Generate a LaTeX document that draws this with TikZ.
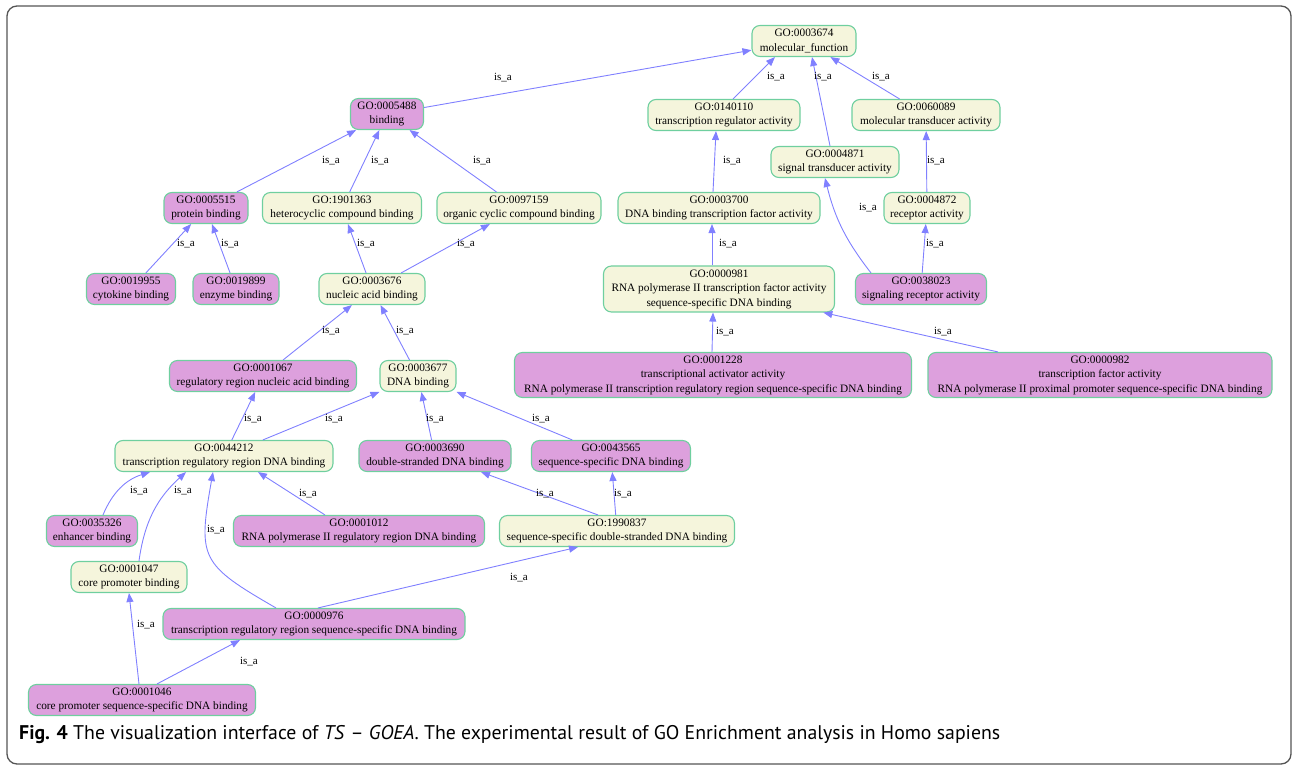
\documentclass[tikz,border=0pt]{standalone}
\usepackage{fontspec}
\usepackage{graphicx}
\setmainfont{Liberation Serif}
\newfontfamily\capfont{PT Sans}
\usetikzlibrary{arrows.meta}
\definecolor{goplum}{HTML}{DDA0DD}
\definecolor{gobeige}{HTML}{F5F5DC}
\definecolor{gobord}{HTML}{6FCF9F}
\definecolor{edgec}{HTML}{8080FF}
\definecolor{framec}{HTML}{555555}
\tikzset{
  gonode/.style={draw=gobord, line width=1.1pt, rounded corners=8pt, align=center,
    inner xsep=2pt, inner ysep=2pt, minimum height=31pt,
    font=\fontsize{11.3}{14.5}\selectfont},
  gop/.style={gonode, fill=goplum},
  goy/.style={gonode, fill=gobeige},
  isa/.style={draw=edgec, line width=0.9pt, -{Triangle[length=9pt,width=7pt]}},
  elab/.style={font=\fontsize{11}{13}\selectfont, inner sep=0pt, text=black}
}
\begin{document}
\begin{tikzpicture}[x=1pt,y=-1pt]
\useasboundingbox (0,0) rectangle (1294,767);
\draw[framec, line width=1.3pt, rounded corners=10pt] (7,6) rectangle (1291,764);

% nodes
\node[goy, minimum width=104pt] (mf) at (804,41) {GO:0003674\\molecular\_function};
\node[gop, minimum width=73pt] (bind) at (387,114) {GO:0005488\\binding};
\node[goy, minimum width=152pt] (trr) at (724,115) {GO:0140110\\transcription regulator activity};
\node[goy, minimum width=148pt] (mtd) at (926,115) {GO:0060089\\molecular transducer activity};
\node[goy, minimum width=128pt] (std) at (835,162) {GO:0004871\\signal transducer activity};
\node[gop, minimum width=84pt] (prot) at (206,208) {GO:0005515\\protein binding};
\node[goy, minimum width=159pt] (hetero) at (342,208) {GO:1901363\\heterocyclic compound binding};
\node[goy, minimum width=164pt] (orgcyc) at (519,208) {GO:0097159\\organic cyclic compound binding};
\node[goy, minimum width=202pt] (dbtf) at (719,208) {GO:0003700\\DNA binding transcription factor activity};
\node[goy, minimum width=86pt] (recept) at (927,208) {GO:0004872\\receptor activity};
\node[gop, minimum width=89pt] (cyto) at (131,289) {GO:0019955\\cytokine binding};
\node[gop, minimum width=86pt] (enz) at (236,289) {GO:0019899\\enzyme binding};
\node[goy, minimum width=106pt] (nab) at (372,289) {GO:0003676\\nucleic acid binding};
\node[goy, minimum width=231pt, minimum height=46pt] (rnap) at (719,289) {GO:0000981\\RNA polymerase II transcription factor activity\\sequence-specific DNA binding};
\node[gop, minimum width=131pt] (sra) at (921,289) {GO:0038023\\signaling receptor activity};
\node[gop, minimum width=187pt] (rrna) at (263,376) {GO:0001067\\regulatory region nucleic acid binding};
\node[goy, minimum width=76pt] (dnab) at (418,376) {GO:0003677\\DNA binding};
\node[gop, minimum width=397pt, minimum height=45pt] (tact) at (713,375) {GO:0001228\\transcriptional activator activity\\RNA polymerase II transcription regulatory region sequence-specific DNA binding};
\node[gop, minimum width=344pt, minimum height=45pt] (tfa) at (1100,375) {GO:0000982\\transcription factor activity\\RNA polymerase II proximal promoter sequence-specific DNA binding};
\node[goy, minimum width=218pt] (trdb) at (224,456) {GO:0044212\\transcription regulatory region DNA binding};
\node[gop, minimum width=152pt] (dsdb) at (435,456) {GO:0003690\\double-stranded DNA binding};
\node[gop, minimum width=159pt] (ssdb) at (611,456) {GO:0043565\\sequence-specific DNA binding};
\node[gop, minimum width=91pt] (enh) at (92,531) {GO:0035326\\enhancer binding};
\node[gop, minimum width=251pt] (rnap2) at (359,531) {GO:0001012\\RNA polymerase II regulatory region DNA binding};
\node[goy, minimum width=235pt] (ssds) at (617,531) {GO:1990837\\sequence-specific double-stranded DNA binding};
\node[goy, minimum width=116pt] (cpb) at (129,577) {GO:0001047\\core promoter binding};
\node[gop, minimum width=302pt] (trss) at (314,624) {GO:0000976\\transcription regulatory region sequence-specific DNA binding};
\node[gop, minimum width=227pt] (cpss) at (142,700) {GO:0001046\\core promoter sequence-specific DNA binding};

% edges
\draw[isa] (bind) -- (mf) node[elab] at (503,78) {is\_a};
\draw[isa] ([xshift=9pt]trr.north) -- ([xshift=-29pt]mf.south) node[elab] at (776,77) {is\_a};
\draw[isa] ([xshift=-5pt]std.north) -- ([xshift=8pt]mf.south) node[elab] at (823,77) {is\_a};
\draw[isa] (mtd) -- (mf) node[elab] at (881,77) {is\_a};
\draw[isa] (prot) -- (bind) node[elab] at (331,161) {is\_a};
\draw[isa] (hetero) -- (bind) node[elab] at (380,161) {is\_a};
\draw[isa] (orgcyc) -- (bind) node[elab] at (482,161) {is\_a};
\draw[isa] ([xshift=-6pt]dbtf.north) -- ([xshift=-8pt]trr.south) node[elab] at (732,161) {is\_a};
\draw[isa] (recept) -- (mtd) node[elab] at (936,161) {is\_a};
\draw[isa] ([xshift=-50pt]sra.north) to[bend left=12] ([xshift=-10pt]std.south) node[elab] at (868,208) {is\_a};
\draw[isa] (cyto) -- (prot) node[elab] at (186,244) {is\_a};
\draw[isa] (enz) -- (prot) node[elab] at (230,244) {is\_a};
\draw[isa] (nab) -- (hetero) node[elab] at (366,244) {is\_a};
\draw[isa] (nab) -- (orgcyc) node[elab] at (466,244) {is\_a};
\draw[isa] ([xshift=-7pt]rnap.north) -- ([xshift=-7pt]dbtf.south) node[elab] at (728,244) {is\_a};
\draw[isa] (sra) -- (recept) node[elab] at (935,244) {is\_a};
\draw[isa] (rrna) -- (nab) node[elab] at (331,331) {is\_a};
\draw[isa] (dnab) -- (nab) node[elab] at (405,331) {is\_a};
\draw[isa] ([xshift=-1pt]tact.north) -- ([xshift=-6pt]rnap.south) node[elab] at (725,332) {is\_a};
\draw[isa] (tfa) -- (rnap) node[elab] at (943,332) {is\_a};
\draw[isa] (trdb) -- (rrna) node[elab] at (253,419) {is\_a};
\draw[isa] (trdb) -- (dnab) node[elab] at (334,419) {is\_a};
\draw[isa] (dsdb) -- (dnab) node[elab] at (435,419) {is\_a};
\draw[isa] (ssdb) -- (dnab) node[elab] at (541,419) {is\_a};
\draw[isa] ([xshift=11pt]enh.north) to[bend left=25] ([xshift=-74pt]trdb.south) node[elab] at (139,491) {is\_a};
\draw[isa] ([xshift=10pt]cpb.north) to[bend left=20] ([xshift=-38pt]trdb.south) node[elab] at (183,491) {is\_a};
\draw[isa] ([xshift=-38pt]trss.north) to[out=150,in=-100,looseness=1.5] ([xshift=-11pt]trdb.south) node[elab] at (216,530) {is\_a};
\draw[isa] ([xshift=-34pt]rnap2.north) -- ([xshift=34pt]trdb.south) node[elab] at (308,494) {is\_a};
\draw[isa] ([xshift=-19pt]ssds.north) -- ([xshift=46pt]dsdb.south) node[elab] at (545,494) {is\_a};
\draw[isa] (ssds) -- (ssdb) node[elab] at (623,494) {is\_a};
\draw[isa] ([xshift=4pt]trss.north) -- ([xshift=-39pt]ssds.south) node[elab] at (519,578) {is\_a};
\draw[isa] ([xshift=-3pt]cpss.north) -- (cpb.south) node[elab] at (146,625) {is\_a};
\draw[isa] ([xshift=15pt]cpss.north) -- ([xshift=-74pt]trss.south) node[elab] at (249,662) {is\_a};

% caption
\node[anchor=west, inner sep=0pt] (cap) at (19,735) {\resizebox{981pt}{!}{\capfont\fontsize{19}{22}\selectfont\textbf{Fig. 4} The visualization interface of \textit{TS} – \textit{GOEA}. The experimental result of GO Enrichment analysis in Homo sapiens}};
\end{tikzpicture}
\end{document}
